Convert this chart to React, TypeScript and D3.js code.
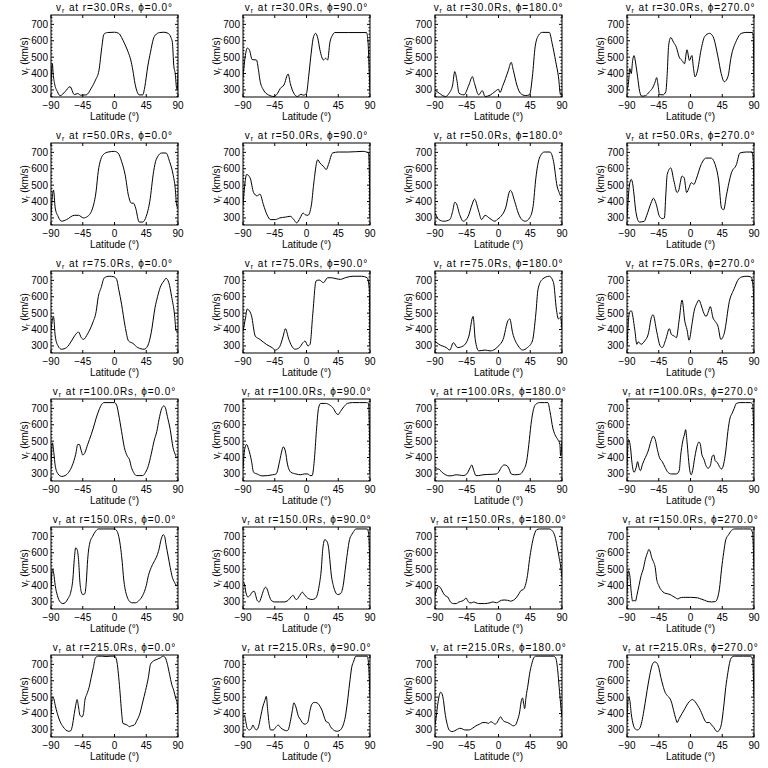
import React from 'react';
import * as d3 from 'd3';

type Pt = [number, number];

// radii (rows) and longitudes (columns)
const radii = [30, 50, 75, 100, 150, 215];
const phis = [0, 90, 180, 270];

const latTicks = [-90, -45, 0, 45, 90];
const vTicks = [300, 400, 500, 600, 700];
const vMinor = [260, 280, 320, 340, 360, 380, 420, 440, 460, 480, 520, 540, 560, 580, 620, 640, 660, 680, 720, 740];

// r = 30 Rs
const v30p0: Pt[] = [[-90,330],[-88,460],[-87,400],[-85,340],[-81,290],[-77,265],[-70,290],[-63,320],[-57,272],[-52,278],[-48,268],[-40,270],[-33,310],[-27,360],[-22,420],[-18,560],[-15,640],[-10,650],[0,652],[6,645],[10,620],[14,585],[19,535],[23,483],[26,420],[29,340],[32,290],[35,270],[40,270],[43,320],[47,440],[51,530],[55,610],[58,635],[64,650],[70,652],[76,645],[80,620],[82,590],[84,450],[86,400],[88,310],[89,300],[90,410]];
const v30p90: Pt[] = [[-90,380],[-87,500],[-84,555],[-81,545],[-77,485],[-71,483],[-68,420],[-66,360],[-61,300],[-54,270],[-46,260],[-41,280],[-37,310],[-32,330],[-26,397],[-23,340],[-18,280],[-13,260],[-8,273],[-4,268],[0,280],[3,380],[6,500],[10,625],[13,645],[16,615],[19,545],[24,483],[27,493],[30,483],[33,585],[37,635],[40,650],[60,650],[85,650],[87,605],[89,400],[90,290]];
const v30p180: Pt[] = [[-90,300],[-84,280],[-75,260],[-70,280],[-65,330],[-62,412],[-59,360],[-56,280],[-49,270],[-42,330],[-37,381],[-34,340],[-28,270],[-23,296],[-19,260],[-12,268],[-5,290],[0,304],[2,285],[6,325],[10,370],[14,420],[18,468],[21,420],[26,330],[31,280],[38,266],[44,270],[48,380],[52,565],[57,635],[62,651],[72,651],[76,585],[81,475],[85,380],[88,270],[90,280]];
const v30p270: Pt[] = [[-90,300],[-88,340],[-86,430],[-84,400],[-82,480],[-80,510],[-78,470],[-75,380],[-72,290],[-69,262],[-64,265],[-58,290],[-54,310],[-50,350],[-48,375],[-46,330],[-44,272],[-39,270],[-35,290],[-33,400],[-31,570],[-28,620],[-24,590],[-20,560],[-16,500],[-12,480],[-8.5,460],[-5,545],[-1.5,480],[2,510],[4,440],[6.5,380],[9.5,410],[15,545],[20,625],[27,645],[32,625],[39,500],[43.5,400],[48,350],[53,380],[57.5,500],[65,600],[72,645],[80,651],[88,650],[89,620],[90,350]];

// r = 50 Rs
const v50p0: Pt[] = [[-90,320],[-86.5,470],[-84,360],[-80,310],[-75,280],[-68,290],[-57,316],[-51,316],[-44,300],[-38,310],[-31,360],[-26,465],[-23,585],[-16,686],[-9,702],[0,706],[5,696],[10,645],[15,565],[20,432],[24,390],[27,390],[30,360],[35,275],[40,275],[45,310],[50,400],[55.5,585],[59,655],[67,696],[73,696],[78,645],[83,565],[86,483],[88,380],[90,360]];
const v50p90: Pt[] = [[-90,380],[-87,520],[-85,565],[-80,545],[-75,455],[-70,435],[-66,445],[-61,380],[-56,320],[-51,290],[-44,290],[-38,300],[-30,305],[-23,310],[-18,290],[-14,270],[-9,300],[-5,330],[-2,320],[2,316],[7,380],[10,500],[16,655],[19,635],[24,615],[28,595],[31,625],[37,696],[45,702],[59,702],[80,706],[88,696],[89,600],[90,300]];
const v50p180: Pt[] = [[-90,330],[-84.5,290],[-77.5,280],[-69,290],[-65,340],[-62,395],[-60,390],[-55,320],[-50,280],[-43,310],[-37.6,380],[-34,415],[-28,340],[-24,290],[-19,316],[-12,296],[-5,280],[-2,290],[3.5,310],[10,360],[16,465],[17,468],[23,400],[28,330],[33,290],[38,280],[44,300],[49,370],[53,545],[58,665],[65,702],[73,702],[78,645],[83,495],[86,455],[88,435],[90,445]];
const v50p270: Pt[] = [[-90,300],[-86.5,500],[-84,535],[-82,510],[-80,440],[-77.5,340],[-72.5,275],[-65.5,280],[-62,316],[-56,390],[-52.6,420],[-49,390],[-44,310],[-40,296],[-37,300],[-35,440],[-33,565],[-28,605],[-23.5,525],[-19,455],[-17,465],[-12,555],[-9,545],[-5.5,455],[-2,485],[1,515],[5,505],[8,535],[15,625],[22,665],[29,665],[35,625],[40,525],[44,360],[47,350],[51,440],[58,575],[65,625],[70,696],[79,702],[87,702],[89,650],[90,400]];

// r = 75 Rs
const v75p0: Pt[] = [[-90,400],[-86.5,480],[-84,360],[-80,300],[-75,280],[-68,290],[-61,330],[-56,365],[-51,385],[-47,350],[-44,340],[-38,375],[-31,440],[-26,510],[-23,600],[-19,655],[-14.5,715],[-7.6,725],[-1,722],[3,706],[6,645],[10,555],[15,420],[20,330],[26,316],[33,290],[42,280],[47,300],[52,380],[57.5,535],[61,600],[64.6,655],[70,696],[73,712],[77,686],[81,600],[85,495],[87.5,390],[90,390]];
const v75p90: Pt[] = [[-90,390],[-86.5,470],[-84,525],[-82,520],[-78,485],[-72.6,360],[-66,340],[-57,310],[-49,290],[-44,275],[-38,296],[-33,360],[-30,405],[-25,340],[-21,300],[-16,280],[-10,290],[-5,320],[-2,330],[2,300],[5,310],[9,500],[13.5,696],[18,702],[24,686],[30,716],[35,716],[42,710],[48,706],[55,716],[66,725],[78,725],[86,716],[89,650],[90,300]];
const v75p180: Pt[] = [[-90,330],[-84.5,310],[-74,290],[-69,275],[-64,320],[-58,290],[-50,300],[-42,360],[-36,480],[-33,340],[-28,270],[-19,275],[-12,270],[-5,280],[0,300],[6.5,340],[13.5,455],[16,465],[20,380],[28,300],[34,275],[41,290],[48,330],[53,500],[56,645],[62,706],[72,725],[78,686],[82,525],[85,465],[88,475],[90,400]];
const v75p270: Pt[] = [[-90,300],[-86.5,505],[-84,515],[-79,400],[-76,310],[-74,325],[-70,310],[-65,330],[-60,370],[-55,480],[-53,490],[-48,390],[-43,300],[-40,290],[-35,340],[-30,405],[-27,370],[-23,360],[-20,350],[-16,460],[-12,580],[-8,450],[-5,400],[-2,335],[2,430],[5,510],[9,560],[12,580],[15,550],[18,510],[22,480],[25,505],[28,540],[32,470],[35,450],[39,420],[43,340],[48,380],[55,570],[62,650],[67,700],[72,720],[80,725],[86,720],[89,650],[90,480]];

// r = 100 Rs
const v100p0: Pt[] = [[-90,330],[-88,490],[-86,430],[-84,350],[-80,300],[-75,285],[-70,290],[-65,310],[-60,350],[-55,420],[-52,480],[-50,480],[-47,440],[-45,415],[-42,430],[-38,480],[-33,540],[-30,580],[-26,640],[-22,690],[-18,725],[-15,735],[0,735],[3,720],[6,660],[10,560],[14,460],[18,410],[21,390],[24,340],[27,310],[31,290],[36,290],[40,290],[44,310],[48,350],[52,420],[56,500],[60,560],[63,630],[67,700],[70,715],[72,705],[75,650],[79,570],[83,460],[86,420],[88,400],[90,410]];
const v100p90: Pt[] = [[-90,330],[-88,440],[-85,480],[-82,450],[-78,380],[-75,310],[-70,300],[-63,288],[-55,290],[-48,295],[-43,300],[-38,380],[-35,440],[-33,465],[-30,440],[-27,360],[-22,310],[-15,300],[-8,295],[-3,300],[2,300],[5,290],[8,290],[11,380],[14,560],[17,700],[20,730],[27,730],[33,720],[38,700],[42,670],[45,662],[48,680],[53,710],[58,730],[65,735],[75,735],[85,735],[88,730],[89,600],[90,300]];
const v100p180: Pt[] = [[-90,330],[-85,330],[-80,310],[-75,295],[-70,288],[-65,290],[-60,295],[-55,293],[-50,290],[-45,300],[-40,340],[-38,355],[-35,320],[-32,290],[-28,290],[-22,295],[-15,297],[-8,298],[-3,300],[0,310],[4,340],[8,355],[12,350],[15,330],[18,300],[23,295],[30,298],[35,320],[40,380],[43,480],[46,600],[50,700],[53,725],[58,735],[65,735],[70,735],[73,680],[77,580],[80,540],[84,510],[87,480],[88,410],[90,500]];
const v100p270: Pt[] = [[-90,350],[-88,510],[-85,460],[-83,370],[-80,310],[-77,340],[-75,375],[-73,340],[-71,320],[-68,360],[-64,400],[-60,440],[-56,500],[-53,530],[-50,510],[-47,450],[-44,400],[-40,375],[-36,340],[-32,310],[-27,300],[-20,300],[-16,320],[-14,410],[-11,500],[-8,550],[-7,570],[-5,500],[-3,400],[-1,320],[1,295],[3,320],[6,400],[10,480],[12,495],[14,480],[16,420],[19,390],[22,350],[25,335],[28,350],[31,410],[33,415],[35,380],[38,370],[41,345],[44,330],[47,360],[50,440],[53,560],[56,640],[59,670],[62,700],[65,730],[70,735],[78,735],[85,735],[88,725],[90,500]];

// r = 150 Rs
const v150p0: Pt[] = [[-90,380],[-88,500],[-86,470],[-84,400],[-81,340],[-77,300],[-73,290],[-70,295],[-66,320],[-62,360],[-59,440],[-57,560],[-55,630],[-53,620],[-51,560],[-49,420],[-47,360],[-45,345],[-42,350],[-40,420],[-38,560],[-35,660],[-31,700],[-27,730],[-23,745],[-15,745],[0,745],[3,735],[6,700],[9,620],[11,540],[13,440],[15,380],[18,330],[21,305],[25,295],[30,295],[35,310],[40,340],[45,400],[48,460],[52,510],[56,545],[60,580],[63,620],[66,680],[69,710],[71,700],[73,650],[76,580],[79,510],[82,450],[85,420],[88,400],[90,420]];
const v150p90: Pt[] = [[-90,420],[-88,410],[-86,360],[-83,330],[-80,340],[-77,360],[-74,365],[-72,340],[-70,310],[-67,300],[-64,330],[-61,370],[-58,390],[-56,380],[-53,340],[-50,310],[-45,300],[-38,300],[-32,300],[-26,310],[-22,330],[-19,340],[-16,320],[-14,315],[-11,330],[-8,350],[-6,360],[-3,345],[0,330],[3,320],[8,315],[12,320],[15,340],[18,400],[21,500],[23,620],[26,680],[28,675],[31,640],[33,560],[35,470],[38,400],[41,360],[44,345],[48,350],[52,400],[55,500],[58,600],[61,680],[64,710],[67,730],[70,745],[80,745],[86,745],[88,720],[90,500]];
const v150p180: Pt[] = [[-90,340],[-88,370],[-85,395],[-82,385],[-79,360],[-76,340],[-72,330],[-68,300],[-64,290],[-60,290],[-56,300],[-52,305],[-48,315],[-46,325],[-44,310],[-41,295],[-38,295],[-35,300],[-32,295],[-28,290],[-20,290],[-12,295],[-8,300],[-3,295],[0,300],[4,310],[8,312],[13,310],[17,305],[21,310],[25,325],[29,350],[32,370],[35,375],[38,400],[41,460],[44,560],[47,640],[50,700],[54,740],[58,745],[72,745],[76,735],[80,700],[83,640],[86,570],[88,520],[90,450]];
const v150p270: Pt[] = [[-90,350],[-88,490],[-86,460],[-84,360],[-82,305],[-80,310],[-78,305],[-76,340],[-73,400],[-70,460],[-67,500],[-64,560],[-61,600],[-59,620],[-57,605],[-55,570],[-52,540],[-50,510],[-48,440],[-45,400],[-41,370],[-37,355],[-33,350],[-29,345],[-25,335],[-21,325],[-18,318],[-15,325],[-10,328],[-5,328],[0,328],[5,327],[10,325],[15,318],[20,310],[25,302],[30,300],[35,302],[38,320],[41,380],[44,500],[47,600],[50,680],[54,710],[57,730],[62,745],[75,745],[85,745],[88,720],[90,500]];

// r = 215 Rs
const v215p0: Pt[] = [[-90,400],[-88,500],[-86,490],[-84,450],[-81,400],[-77,350],[-73,320],[-69,300],[-65,292],[-62,295],[-60,320],[-57,400],[-55,450],[-53,485],[-51,440],[-49,390],[-46,380],[-44,400],[-42,480],[-39,520],[-36,560],[-33,620],[-30,680],[-27,740],[-23,750],[-18,750],[-12,748],[-5,750],[0,750],[2,740],[4,700],[6,620],[8,520],[10,410],[12,340],[15,335],[18,330],[21,320],[24,325],[28,330],[32,360],[36,400],[40,470],[44,540],[48,620],[51,700],[55,720],[60,730],[65,740],[69,750],[72,740],[75,700],[78,640],[81,580],[84,540],[87,490],[89,460],[90,400]];
const v215p90: Pt[] = [[-90,380],[-88,390],[-86,350],[-84,310],[-81,300],[-78,310],[-76,330],[-74,315],[-71,300],[-68,320],[-65,380],[-62,440],[-59,480],[-57,505],[-55,420],[-53,340],[-51,300],[-47,300],[-43,320],[-40,330],[-37,315],[-32,300],[-28,295],[-26,300],[-23,350],[-20,420],[-18,465],[-15,440],[-12,390],[-8,360],[-5,340],[-2,335],[2,350],[5,420],[8,460],[11,468],[15,465],[19,445],[22,420],[25,380],[28,350],[31,345],[34,320],[37,305],[40,295],[44,292],[48,300],[52,330],[55,380],[58,470],[61,580],[64,680],[67,720],[70,750],[80,750],[86,750],[88,700],[90,500]];
const v215p180: Pt[] = [[-90,330],[-88,390],[-86,460],[-84,510],[-82,530],[-80,520],[-78,480],[-76,410],[-73,340],[-70,300],[-66,290],[-62,295],[-58,305],[-55,310],[-52,308],[-48,300],[-42,300],[-37,310],[-32,325],[-27,335],[-22,345],[-18,345],[-14,340],[-11,350],[-8,345],[-5,335],[-2,345],[1,370],[3,380],[6,360],[9,350],[13,345],[17,335],[21,325],[24,330],[27,360],[30,410],[32,470],[34,495],[36,450],[37,430],[39,500],[42,580],[44,640],[47,700],[50,740],[53,750],[60,750],[70,750],[78,750],[81,740],[84,660],[86,560],[88,460],[90,380]];
const v215p270: Pt[] = [[-90,350],[-88,500],[-86,480],[-84,400],[-81,330],[-78,305],[-75,300],[-72,310],[-69,350],[-66,420],[-63,500],[-60,580],[-57,650],[-54,700],[-51,715],[-48,710],[-45,680],[-42,620],[-39,570],[-36,530],[-33,510],[-29,490],[-27,470],[-24,420],[-21,370],[-19,345],[-16,370],[-12,400],[-8,430],[-4,460],[0,480],[3,485],[6,475],[10,450],[14,420],[17,390],[20,360],[23,345],[27,345],[30,330],[33,315],[36,295],[38,290],[41,300],[44,340],[47,440],[50,560],[53,650],[56,720],[59,745],[62,750],[75,750],[85,750],[88,730],[90,500]];

const grid: Pt[][][] = [
  [v30p0, v30p90, v30p180, v30p270],
  [v50p0, v50p90, v50p180, v50p270],
  [v75p0, v75p90, v75p180, v75p270],
  [v100p0, v100p90, v100p180, v100p270],
  [v150p0, v150p90, v150p180, v150p270],
  [v215p0, v215p90, v215p180, v215p270],
];

const CELL_W = 192, CELL_H = 128;
const PL = 51, PT = 15, PW = 127, PH = 82;
const FONT = '"Liberation Sans", Arial, sans-serif';

const fmtLat = (t: number) => (t < 0 ? `\u2212${-t}` : `${t}`);

function Panel({ data, r, phi, col, row }: { data: Pt[]; r: number; phi: number; col: number; row: number }) {
  const x = d3.scaleLinear().domain([-90, 90]).range([0, PW]);
  const y = d3.scaleLinear().domain([257, 757]).range([PH, 0]);
  const line = d3.line<Pt>().x(d => x(d[0])).y(d => y(d[1])).curve(d3.curveMonotoneX);
  const id = `clip-${row}-${col}`;
  return (
    <g transform={`translate(${col * CELL_W + PL},${row * CELL_H + PT})`}>
      <text x={PW / 2} y={-4} textAnchor="middle" fontSize={10} fontFamily={FONT} letterSpacing={0.9}>
        v<tspan fontSize={7} dy={2}>r</tspan><tspan dy={-2}>{` at r=${r.toFixed(1)}Rs,  ϕ=${phi.toFixed(1)}°`}</tspan>
      </text>
      <defs>
        <clipPath id={id}><rect x={0} y={0} width={PW} height={PH} /></clipPath>
      </defs>
      <path d={line(data) ?? ''} fill="none" stroke="#000" strokeWidth={1} clipPath={`url(#${id})`} />
      <rect x={0} y={0} width={PW} height={PH} fill="none" stroke="#000" strokeWidth={1} />
      {latTicks.map(t => (
        <g key={`x${t}`}>
          <line x1={x(t)} x2={x(t)} y1={PH} y2={PH - 3} stroke="#000" />
          <line x1={x(t)} x2={x(t)} y1={0} y2={3} stroke="#000" />
          <text x={x(t)} y={PH + 12} textAnchor="middle" fontSize={10} fontFamily={FONT}>{fmtLat(t)}</text>
        </g>
      ))}
      {vTicks.map(t => (
        <g key={`y${t}`}>
          <line x1={0} x2={3} y1={y(t)} y2={y(t)} stroke="#000" />
          <line x1={PW} x2={PW - 3} y1={y(t)} y2={y(t)} stroke="#000" />
          <text x={-3} y={y(t) + 3.5} textAnchor="end" fontSize={10} fontFamily={FONT}>{t}</text>
        </g>
      ))}
      {vMinor.map(t => (
        <g key={`m${t}`}>
          <line x1={0} x2={1.5} y1={y(t)} y2={y(t)} stroke="#000" />
          <line x1={PW} x2={PW - 1.5} y1={y(t)} y2={y(t)} stroke="#000" />
        </g>
      ))}
      <text x={PW / 2} y={PH + 23} textAnchor="middle" fontSize={10} fontFamily={FONT}>Latitude (°)</text>
      <text transform={`translate(${-23},${PH / 2}) rotate(-90)`} textAnchor="middle" fontSize={10} fontFamily={FONT}>
        v<tspan fontSize={7} dy={2}>r</tspan><tspan dy={-2}> (km/s)</tspan>
      </text>
    </g>
  );
}

export default function App() {
  return (
    <svg width={768} height={768} style={{ position: 'absolute', left: 0, top: 0, background: '#fff' }}>
      <rect width={768} height={768} fill="#fff" />
      {radii.map((r, row) => phis.map((phi, col) => (
        <Panel key={`${row}-${col}`} data={grid[row][col]} r={r} phi={phi} row={row} col={col} />
      )))}
    </svg>
  );
}
